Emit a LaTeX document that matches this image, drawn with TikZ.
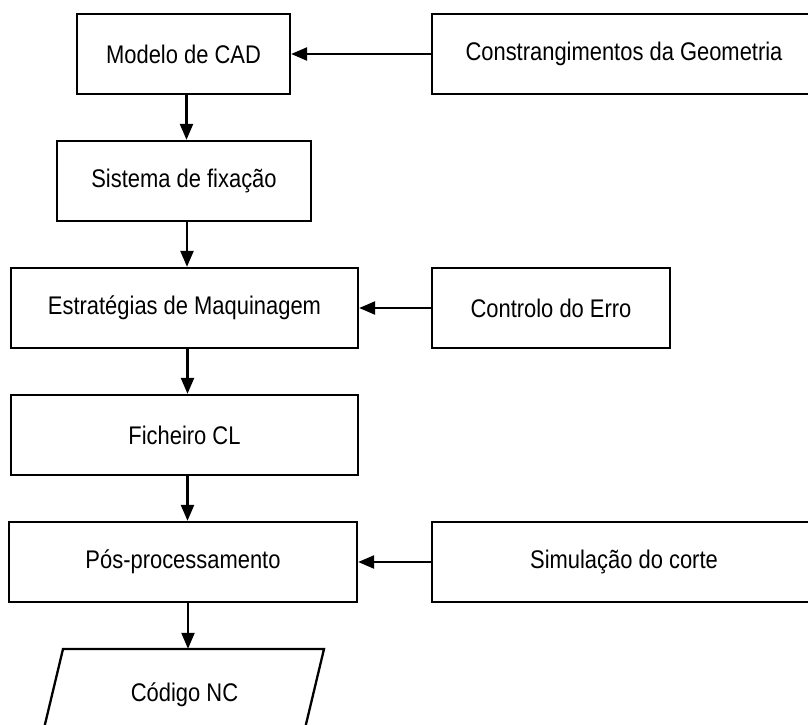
\documentclass[tikz,border=0pt]{standalone}
\usepackage{fontspec}
\setmainfont{Liberation Sans}[FakeStretch=0.86]
\usetikzlibrary{shapes.geometric,arrows.meta}
\begin{document}
\begin{tikzpicture}[x=1pt,y=-1pt,
  box/.style={draw,line width=2.3pt,rectangle,inner sep=0pt,minimum height=80pt,font=\fontsize{25.5}{30}\selectfont},
  flow/.style={line width=2.3pt,-{Triangle[length=16pt,width=13pt]}}]
\useasboundingbox (0,0) rectangle (808,725);
\clip (0,0) rectangle (808,725);
\node[box,minimum width=213pt] (cad) at (183.5,54) {Modelo de CAD};
\node[box,minimum width=384pt] (geo) at (624,54) {Constrangimentos da Geometria};
\node[box,minimum width=254pt] (fix) at (184,181) {Sistema de fixação};
\node[box,minimum width=347pt] (est) at (184.5,308) {Estratégias de Maquinagem};
\node[box,minimum width=238pt] (err) at (551,308) {Controlo do Erro};
\node[box,minimum width=347pt] (cl) at (184.5,435) {Ficheiro CL};
\node[box,minimum width=348pt] (pos) at (183,562) {Pós-processamento};
\node[box,minimum width=384pt] (sim) at (624,562) {Simulação do corte};
\node[inner sep=0pt,minimum width=261pt,minimum height=92pt,
  font=\fontsize{25.5}{30}\selectfont] (nc) at (184.5,695) {Código NC};
\draw[line width=2.3pt,line join=miter] (63,649) -- (324,649) -- (302,741) -- (41,741) -- cycle;
\draw[flow] (geo.west) -- (cad.east);
\draw[flow] (err.west) -- (est.east);
\draw[flow] (sim.west) -- (pos.east);
\draw[flow] ([xshift=3pt]cad.south) -- ([xshift=3pt]cad.south |- fix.north);
\draw[flow] ([xshift=3pt]fix.south) -- ([xshift=3pt]fix.south |- est.north);
\draw[flow] ([xshift=3pt]est.south) -- ([xshift=3pt]est.south |- cl.north);
\draw[flow] ([xshift=3pt]cl.south) -- ([xshift=3pt]cl.south |- pos.north);
\draw[flow] ([xshift=5pt]pos.south) -- ([xshift=5pt]pos.south |- nc.north);
\end{tikzpicture}
\end{document}
